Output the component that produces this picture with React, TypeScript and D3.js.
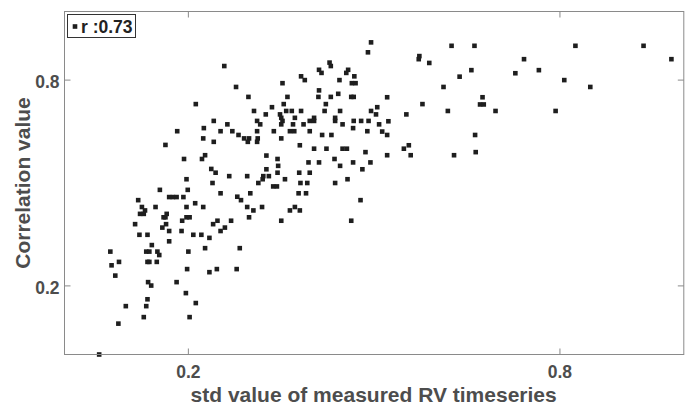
import React from "react";
import * as d3 from "d3";

const stdValues: number[] = [
  0.212,0.182,0.163,0.193,0.197,0.154,0.199,0.119,0.169,0.175,0.181,0.192,0.125,0.147,0.197,0.211,0.130,0.122,0.128,0.165,
  0.160,0.163,0.197,0.202,0.190,0.114,0.164,0.158,0.121,0.134,0.169,0.189,0.208,0.169,0.141,0.074,0.132,0.137,0.150,0.153,
  0.200,0.076,0.088,0.134,0.137,0.149,0.082,0.198,0.135,0.140,0.181,0.196,0.134,0.212,0.099,0.132,0.128,0.202,0.087,0.056,
  0.495,0.490,0.258,0.428,0.430,0.411,0.415,0.458,0.455,0.468,0.382,0.388,0.444,0.352,0.464,0.470,0.277,0.411,0.442,0.297,
  0.360,0.410,0.430,0.463,0.467,0.354,0.422,0.335,0.505,0.306,0.358,0.367,0.382,0.420,0.445,0.495,0.503,0.325,0.348,0.350,
  0.372,0.437,0.403,0.241,0.311,0.352,0.396,0.403,0.437,0.467,0.479,0.491,0.263,0.316,0.350,0.369,0.386,0.449,0.508,0.225,
  0.466,0.252,0.271,0.311,0.338,0.364,0.371,0.396,0.489,0.281,0.416,0.431,0.224,0.290,0.298,0.312,0.350,0.241,0.296,0.311,
  0.380,0.403,0.423,0.449,0.456,0.486,0.227,0.222,0.326,0.344,0.436,0.394,0.411,0.466,0.494,0.345,0.445,0.237,0.326,0.481,
  0.244,0.344,0.379,0.396,0.266,0.295,0.321,0.330,0.320,0.356,0.457,0.239,0.313,0.381,0.392,0.437,0.337,0.343,0.252,0.300,
  0.378,0.390,0.279,0.285,0.478,0.224,0.295,0.319,0.372,0.305,0.364,0.380,0.247,0.269,0.350,0.463,0.298,0.240,0.259,0.252,
  0.221,0.234,0.227,0.283,0.246,0.234,0.278,
  0.625,0.662,0.825,0.935,0.573,0.572,0.589,0.742,0.980,0.657,0.728,0.766,0.638,0.807,0.612,0.849,0.521,0.675,0.578,0.671,
  0.677,0.552,0.619,0.696,0.793,0.523,0.513,0.521,0.663,0.556,0.548,0.521,0.559,0.629,0.664,
];

const corrValues: number[] = [
  0.730,0.651,0.611,0.570,0.511,0.480,0.480,0.450,0.459,0.459,0.459,0.459,0.430,0.430,0.430,0.441,0.420,0.410,0.410,0.410,
  0.400,0.400,0.400,0.400,0.390,0.380,0.380,0.370,0.349,0.349,0.360,0.360,0.349,0.330,0.319,0.300,0.300,0.300,0.300,0.290,
  0.300,0.260,0.270,0.270,0.270,0.270,0.230,0.249,0.211,0.201,0.211,0.179,0.161,0.150,0.141,0.141,0.109,0.109,0.090,0.000,
  0.910,0.881,0.841,0.851,0.841,0.830,0.821,0.830,0.821,0.811,0.811,0.800,0.800,0.791,0.791,0.791,0.780,0.770,0.760,0.751,
  0.751,0.751,0.751,0.751,0.751,0.730,0.730,0.721,0.721,0.710,0.710,0.710,0.710,0.710,0.710,0.710,0.700,0.700,0.700,0.690,
  0.690,0.690,0.690,0.681,0.681,0.681,0.681,0.681,0.681,0.681,0.681,0.681,0.671,0.671,0.671,0.671,0.671,0.671,0.671,0.660,
  0.660,0.651,0.651,0.651,0.651,0.651,0.651,0.651,0.651,0.640,0.640,0.640,0.630,0.630,0.630,0.630,0.630,0.620,0.620,0.620,
  0.610,0.600,0.600,0.600,0.600,0.590,0.581,0.570,0.580,0.570,0.570,0.560,0.560,0.560,0.560,0.550,0.550,0.541,0.540,0.540,
  0.530,0.530,0.530,0.530,0.520,0.520,0.520,0.520,0.511,0.511,0.511,0.500,0.500,0.500,0.500,0.500,0.490,0.490,0.470,0.470,
  0.470,0.470,0.460,0.450,0.450,0.430,0.430,0.430,0.430,0.420,0.420,0.420,0.390,0.390,0.390,0.390,0.400,0.380,0.370,0.360,
  0.349,0.340,0.310,0.310,0.249,0.240,0.249,
  0.900,0.900,0.900,0.900,0.870,0.861,0.850,0.861,0.861,0.829,0.820,0.829,0.810,0.800,0.780,0.780,0.750,0.750,0.730,0.729,
  0.729,0.700,0.710,0.710,0.710,0.680,0.650,0.640,0.640,0.610,0.600,0.581,0.581,0.581,0.590,
];

const xTicks: number[] = [0.2, 0.8];
const yTicks: number[] = [0.2, 0.8];
const xLabel = "std value of measured RV timeseries";
const yLabel = "Correlation value";
const legendText = "r :0.73";

const W = 685;
const H = 405;
const L = 64.5, R = 683.8, T = 11.5, B = 354.5;
const FONT = "'Liberation Sans', Arial, Helvetica, sans-serif";
const TEXT = "#4d4d4d";
const AXIS = "#8a8a8a";
const MARK = "#1e1e1e";

export default function App() {
  const x = d3.scaleLinear().domain([0, 1]).range([L, R]);
  const y = d3.scaleLinear().domain([0, 1]).range([B, T]);
  const pts = stdValues.map((v, i) => [v, corrValues[i]] as [number, number]);
  const ms = 4.6;
  const tl = 6;
  return (
    <svg width={W} height={H} style={{ position: "absolute", left: 0, top: 0, background: "#fff" }} fontFamily={FONT}>
      <rect x={0} y={0} width={W} height={H} fill="#fff" />
      <g>
        {pts.map(([a, b], i) => (
          <rect key={i} x={x(a) - ms / 2} y={y(b) - ms / 2} width={ms} height={ms} fill={MARK} />
        ))}
      </g>
      <rect x={L} y={T} width={R - L} height={B - T} fill="none" stroke={AXIS} strokeWidth={1} />
      {xTicks.map((t) => (
        <g key={"x" + t}>
          <line x1={x(t)} x2={x(t)} y1={B} y2={B - tl} stroke={AXIS} />
          <line x1={x(t)} x2={x(t)} y1={T} y2={T + tl} stroke={AXIS} />
          <text x={x(t)} y={378} textAnchor="middle" fontSize={17.5} fontWeight="bold" fill={TEXT}>
            {t.toFixed(1)}
          </text>
        </g>
      ))}
      {yTicks.map((t) => (
        <g key={"y" + t}>
          <line x1={L} x2={L + tl} y1={y(t)} y2={y(t)} stroke={AXIS} />
          <line x1={R} x2={R - tl} y1={y(t)} y2={y(t)} stroke={AXIS} />
          <text x={59.5} y={y(t) + 8.3} textAnchor="end" fontSize={17.5} fontWeight="bold" fill={TEXT}>
            {t.toFixed(1)}
          </text>
        </g>
      ))}
      <text x={(L + R) / 2 - 0.5} y={402} textAnchor="middle" fontSize={21} fontWeight="bold" fill={TEXT}>
        {xLabel}
      </text>
      <text
        transform={`translate(29.5,${(T + B) / 2}) rotate(-90)`}
        textAnchor="middle"
        fontSize={21}
        fontWeight="bold"
        fill={TEXT}
      >
        {yLabel}
      </text>
      <g>
        <rect x={67.5} y={14.5} width={68} height={23} fill="#fff" stroke="#333" strokeWidth={1} />
        <rect x={75 - ms / 2} y={26.5 - ms / 2} width={ms} height={ms} fill={MARK} />
        <text x={81} y={32.7} fontSize={17.5} fontWeight="bold" fill="#222">
          {legendText}
        </text>
      </g>
    </svg>
  );
}
